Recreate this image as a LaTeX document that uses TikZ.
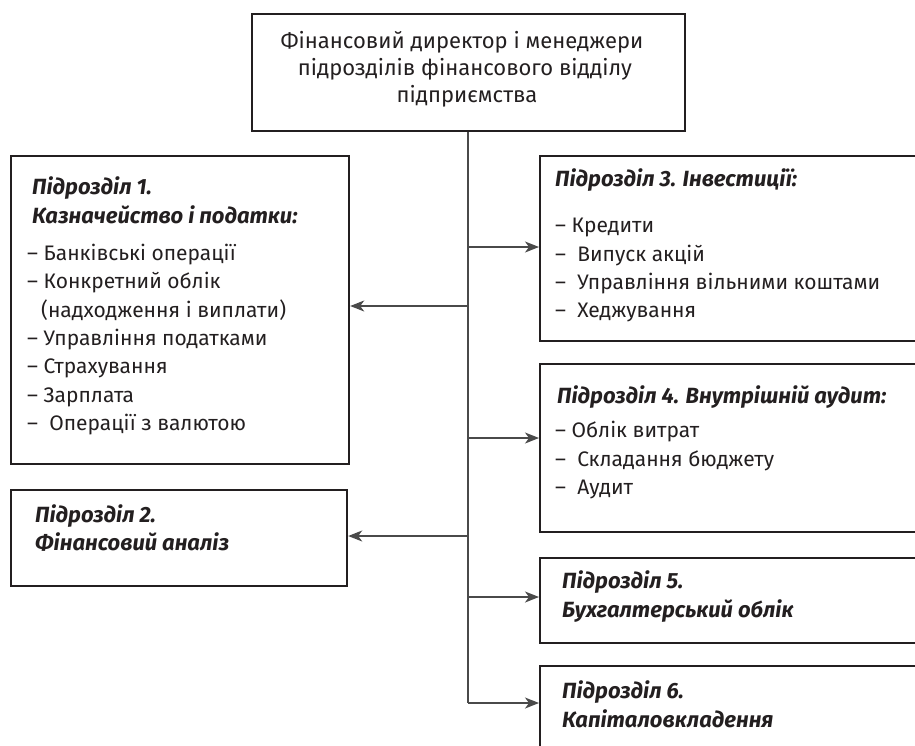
\documentclass[tikz,border=0pt]{standalone}
\usepackage{fontspec}
\setmainfont{Fira Sans}
\usetikzlibrary{arrows.meta}
\definecolor{ink}{HTML}{231F20}
\definecolor{wire}{HTML}{4A4A4A}
\newcommand{\fsz}{\fontsize{21}{26}\selectfont}
\newcommand{\hsz}{\fontsize{22}{26}\selectfont}
\tikzset{
  box/.style={draw=ink, line width=2.2pt, fill=none, inner sep=0pt, anchor=north west},
  txt/.style={anchor=base west, inner sep=0pt, font=\fsz, text=ink},
  head/.style={txt, font=\hsz\bfseries\itshape},
  ctxt/.style={anchor=base, inner sep=0pt, font=\hsz, text=ink},
  wireline/.style={draw=wire, line width=1.3pt},
  arr/.style={wireline, -{Stealth[length=14pt,width=11pt,inset=4pt]}}
}
\begin{document}
\begin{tikzpicture}[x=1pt,y=-1pt]
\useasboundingbox (0,0) rectangle (915,745);
\clip (0,0) rectangle (915,745);
% boxes
\node[box, minimum width=433pt, minimum height=117pt] (top) at (251,13) {};
\node[box, minimum width=338pt, minimum height=308pt] (b1) at (10,155) {};
\node[box, minimum width=336pt, minimum height=96pt] (b2) at (10,489) {};
\node[box, minimum width=420pt, minimum height=185pt] (b3) at (539,155) {};
\node[box, minimum width=420pt, minimum height=168pt] (b4) at (539,363) {};
\node[box, minimum width=420pt, minimum height=85pt] (b5) at (539,557) {};
\node[box, minimum width=420pt, minimum height=110pt] (b6) at (539,665) {};
% top text
\node[ctxt] (t1) at (462,48) {Фінансовий директор і менеджери};
\node[ctxt] (t2) at (465,75) {підрозділів фінансового відділу};
\node[ctxt] (t3) at (467,102) {підприємства};
% box 1
\node[head] (h1a) at (32,194) {Підрозділ 1.};
\node[head] (h1b) at (32,223) {Казначейство і податки:};
\node[txt] (i11) at (27,260) {– Банківські операції};
\node[txt] (i12) at (27,288) {– Конкретний облік};
\node[txt] (i13) at (41,317) {(надходження і виплати)};
\node[txt] (i14) at (27,345) {– Управління податками};
\node[txt] (i15) at (27,373) {– Страхування};
\node[txt] (i16) at (27,402) {– Зарплата};
\node[txt] (i17) at (27,430) {–\ \ Операції з валютою};
% box 2
\node[head] (h2a) at (35,522) {Підрозділ 2.};
\node[head] (h2b) at (35,550) {Фінансовий аналіз};
% box 3
\node[head] (h3) at (555,186) {Підрозділ 3. Інвестиції:};
\node[txt] (i31) at (555,232) {– Кредити};
\node[txt] (i32) at (555,261) {–\ \ Випуск акцій};
\node[txt] (i33) at (555,289) {–\ \ Управління вільними коштами};
\node[txt] (i34) at (555,317) {–\ \ Хеджування};
% box 4
\node[head] (h4) at (557,403) {Підрозділ 4. Внутрішній аудит:};
\node[txt] (i41) at (555,437) {– Облік витрат};
\node[txt] (i42) at (555,466) {–\ \ Складання бюджету};
\node[txt] (i43) at (555,494) {–\ \ Аудит};
% box 5
\node[head] (h5a) at (562,588) {Підрозділ 5.};
\node[head] (h5b) at (562,617) {Бухгалтерський облік};
% box 6
\node[head] (h6a) at (562,698) {Підрозділ 6.};
\node[head] (h6b) at (562,727) {Капіталовкладення};
% connectors
\coordinate (trunk) at (468,0);
\coordinate (j6) at (468,703);
\draw[wireline] (top.south -| trunk) -- (j6);
\draw[arr] (468,306) -- (b1.east |- 0,306);
\draw[arr] (468,536) -- (b2.east |- 0,536);
\draw[arr] (468,247) -- (b3.west |- 0,247);
\draw[arr] (468,438) -- (b4.west |- 0,438);
\draw[arr] (468,597) -- (b5.west |- 0,597);
\draw[arr] (j6) -- (b6.west |- j6);
\end{tikzpicture}
\end{document}
